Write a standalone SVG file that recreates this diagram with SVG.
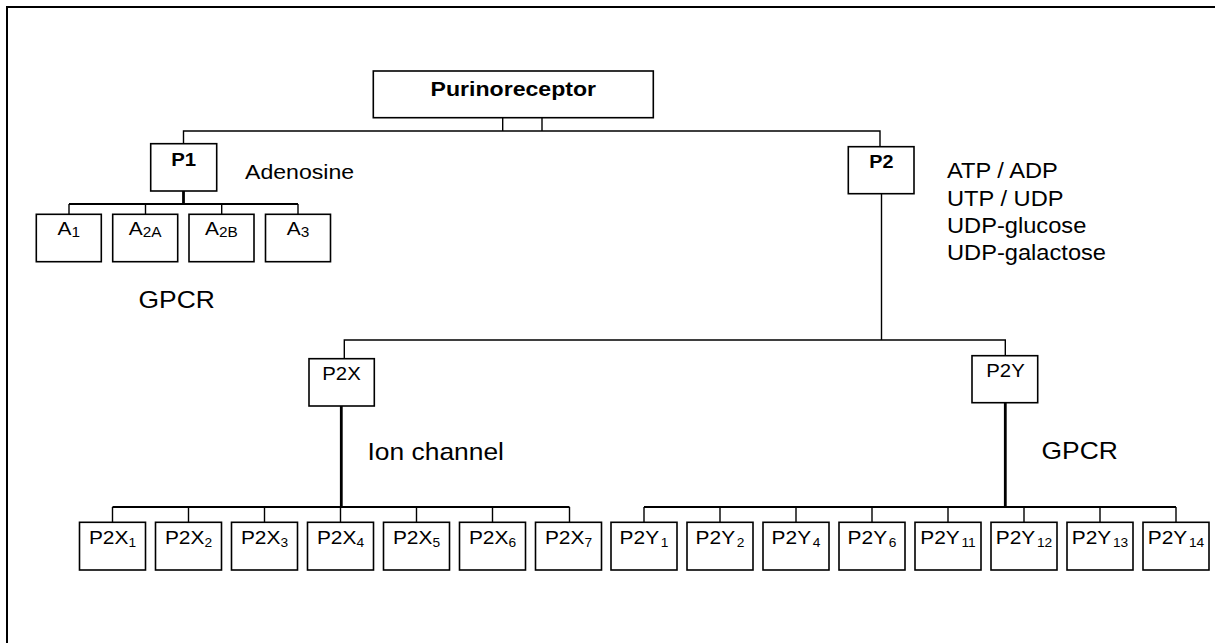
<svg xmlns="http://www.w3.org/2000/svg" width="1215" height="643" viewBox="0 0 1215 643">
  <style>
    .frame { fill: none; stroke: #000; stroke-width: 2; }
    .box { fill: #fff; stroke: #000; stroke-width: 1.6; }
    .wire { fill: none; stroke: #000; stroke-width: 1.4; }
    .trunk { fill: none; stroke: #000; stroke-width: 2.8; }
    .bar { fill: none; stroke: #000; stroke-width: 2; }
    text { font-family: "Liberation Sans", Arial, Helvetica, sans-serif; fill: #000; }
    .c { text-anchor: middle; }
    .b { font-weight: bold; }
    .sub { font-size: 12.5px; }
    .suba { font-size: 14px; }
  </style>

  <!-- outer frame (right and bottom edges fall outside the canvas) -->
  <rect class="frame" x="7" y="7" width="1220" height="650"/>

  <!-- connectors -->
  <g id="connectors">
    <!-- root stub and level-1 split -->
    <path class="wire" d="M502.7,117.7 V131 M542,117.7 V131"/>
    <path class="wire" d="M183.5,143.7 V131 H880 V146.7"/>
    <!-- P1 to adenosine receptors -->
    <path class="trunk" d="M183.5,191 V204"/>
    <path class="bar" d="M69,204 H298"/>
    <path class="wire" d="M69,204 V214.3 M145.5,204 V214.3 M221.7,204 V214.3 M298,204 V214.3"/>
    <!-- P2 split into P2X / P2Y -->
    <path class="wire" d="M881.5,193.7 V340"/>
    <path class="wire" d="M344.3,358.7 V340 H1005.3 V355.7"/>
    <!-- P2X subtypes -->
    <path class="trunk" d="M341.3,406 V507"/>
    <path class="bar" d="M112.5,507 H569.5"/>
    <path class="wire" d="M112.5,507 V522.3 M188.5,507 V522.3 M264.5,507 V522.3 M340.5,507 V522.3 M416.5,507 V522.3 M492.5,507 V522.3 M569.5,507 V522.3"/>
    <!-- P2Y subtypes -->
    <path class="trunk" d="M1005.3,402.7 V507"/>
    <path class="bar" d="M644,507 H1176"/>
    <path class="wire" d="M644,507 V522.3 M720,507 V522.3 M796,507 V522.3 M872,507 V522.3 M948,507 V522.3 M1024,507 V522.3 M1100,507 V522.3 M1176,507 V522.3"/>
  </g>

  <!-- root -->
  <g id="purinoreceptor">
    <rect class="box" x="373.3" y="71" width="280" height="46.7"/>
    <text class="c b" font-size="21" transform="translate(513.3 95.7) scale(1.1 1)">Purinoreceptor</text>
  </g>

  <!-- P1 branch -->
  <g id="p1">
    <rect class="box" x="150.7" y="143.7" width="66" height="47.3"/>
    <text class="c b" font-size="18.5" transform="translate(183.7 166) scale(1.1 1)">P1</text>
  </g>
  <text font-size="21" transform="translate(245 179) scale(1.1 1)">Adenosine</text>

  <g id="a1">
    <rect class="box" x="36.3" y="214.3" width="65" height="47.4"/>
    <text class="c" font-size="19" transform="translate(68.8 235) scale(1.1 1)">A<tspan class="suba" dy="2">1</tspan></text>
  </g>
  <g id="a2a">
    <rect class="box" x="112.7" y="214.3" width="65" height="47.4"/>
    <text class="c" font-size="19" transform="translate(145.2 235) scale(1.1 1)">A<tspan class="suba" dy="2">2A</tspan></text>
  </g>
  <g id="a2b">
    <rect class="box" x="189" y="214.3" width="65" height="47.4"/>
    <text class="c" font-size="19" transform="translate(221.5 235) scale(1.1 1)">A<tspan class="suba" dy="2">2B</tspan></text>
  </g>
  <g id="a3">
    <rect class="box" x="265.5" y="214.3" width="65" height="47.4"/>
    <text class="c" font-size="19" transform="translate(298 235) scale(1.1 1)">A<tspan class="suba" dy="2">3</tspan></text>
  </g>
  <text font-size="24" transform="translate(138.5 307.7) scale(1.1 1)">GPCR</text>

  <!-- P2 branch -->
  <g id="p2">
    <rect class="box" x="848.3" y="146.7" width="65.7" height="47"/>
    <text class="c b" font-size="18" transform="translate(881.3 168.3) scale(1.1 1)">P2</text>
  </g>
  <g id="p2-ligands" font-size="21.5">
    <text transform="translate(947 178.3) scale(1.1 1)">ATP / ADP</text>
    <text transform="translate(947 205.7) scale(1.1 1)">UTP / UDP</text>
    <text transform="translate(947 233.2) scale(1.1 1)">UDP-glucose</text>
    <text transform="translate(947 260.3) scale(1.1 1)">UDP-galactose</text>
  </g>

  <!-- P2X -->
  <g id="p2x">
    <rect class="box" x="309" y="358.7" width="65.3" height="47.3"/>
    <text class="c" font-size="18.5" transform="translate(341.5 380) scale(1.1 1)">P2X</text>
  </g>
  <text font-size="24" transform="translate(367.5 460) scale(1.1 1)">Ion channel</text>

  <g id="p2x1">
    <rect class="box" x="79.5" y="522.3" width="66" height="47.7"/>
    <text class="c" font-size="19" transform="translate(112.5 544) scale(1.1 1)">P2X<tspan class="sub" dy="2.7">1</tspan></text>
  </g>
  <g id="p2x2">
    <rect class="box" x="155.5" y="522.3" width="66" height="47.7"/>
    <text class="c" font-size="19" transform="translate(188.5 544) scale(1.1 1)">P2X<tspan class="sub" dy="2.7">2</tspan></text>
  </g>
  <g id="p2x3">
    <rect class="box" x="231.5" y="522.3" width="66" height="47.7"/>
    <text class="c" font-size="19" transform="translate(264.5 544) scale(1.1 1)">P2X<tspan class="sub" dy="2.7">3</tspan></text>
  </g>
  <g id="p2x4">
    <rect class="box" x="307.5" y="522.3" width="66" height="47.7"/>
    <text class="c" font-size="19" transform="translate(340.5 544) scale(1.1 1)">P2X<tspan class="sub" dy="2.7">4</tspan></text>
  </g>
  <g id="p2x5">
    <rect class="box" x="383.5" y="522.3" width="66" height="47.7"/>
    <text class="c" font-size="19" transform="translate(416.5 544) scale(1.1 1)">P2X<tspan class="sub" dy="2.7">5</tspan></text>
  </g>
  <g id="p2x6">
    <rect class="box" x="459.5" y="522.3" width="66" height="47.7"/>
    <text class="c" font-size="19" transform="translate(492.5 544) scale(1.1 1)">P2X<tspan class="sub" dy="2.7">6</tspan></text>
  </g>
  <g id="p2x7">
    <rect class="box" x="535.5" y="522.3" width="66" height="47.7"/>
    <text class="c" font-size="19" transform="translate(568.5 544) scale(1.1 1)">P2X<tspan class="sub" dy="2.7">7</tspan></text>
  </g>

  <!-- P2Y -->
  <g id="p2y">
    <rect class="box" x="972" y="355.7" width="65.7" height="47"/>
    <text class="c" font-size="18.5" transform="translate(1005.5 376.7) scale(1.1 1)">P2Y</text>
  </g>
  <text font-size="24" transform="translate(1041.5 459.3) scale(1.1 1)">GPCR</text>

  <g id="p2y1">
    <rect class="box" x="611" y="522.3" width="66" height="47.7"/>
    <text class="c" font-size="19" transform="translate(644 544) scale(1.1 1)">P2Y<tspan class="sub" dx="1.5" dy="2.7">1</tspan></text>
  </g>
  <g id="p2y2">
    <rect class="box" x="687" y="522.3" width="66" height="47.7"/>
    <text class="c" font-size="19" transform="translate(720 544) scale(1.1 1)">P2Y<tspan class="sub" dx="1.5" dy="2.7">2</tspan></text>
  </g>
  <g id="p2y4">
    <rect class="box" x="763" y="522.3" width="66" height="47.7"/>
    <text class="c" font-size="19" transform="translate(796 544) scale(1.1 1)">P2Y<tspan class="sub" dx="1.5" dy="2.7">4</tspan></text>
  </g>
  <g id="p2y6">
    <rect class="box" x="839" y="522.3" width="66" height="47.7"/>
    <text class="c" font-size="19" transform="translate(872 544) scale(1.1 1)">P2Y<tspan class="sub" dx="1.5" dy="2.7">6</tspan></text>
  </g>
  <g id="p2y11">
    <rect class="box" x="915" y="522.3" width="66" height="47.7"/>
    <text class="c" font-size="19" transform="translate(948 544) scale(1.1 1)">P2Y<tspan class="sub" dx="1.5" dy="2.7">11</tspan></text>
  </g>
  <g id="p2y12">
    <rect class="box" x="991" y="522.3" width="66" height="47.7"/>
    <text class="c" font-size="19" transform="translate(1024 544) scale(1.1 1)">P2Y<tspan class="sub" dx="1.5" dy="2.7">12</tspan></text>
  </g>
  <g id="p2y13">
    <rect class="box" x="1067" y="522.3" width="66" height="47.7"/>
    <text class="c" font-size="19" transform="translate(1100 544) scale(1.1 1)">P2Y<tspan class="sub" dx="1.5" dy="2.7">13</tspan></text>
  </g>
  <g id="p2y14">
    <rect class="box" x="1143" y="522.3" width="66" height="47.7"/>
    <text class="c" font-size="19" transform="translate(1176 544) scale(1.1 1)">P2Y<tspan class="sub" dx="1.5" dy="2.7">14</tspan></text>
  </g>
</svg>
